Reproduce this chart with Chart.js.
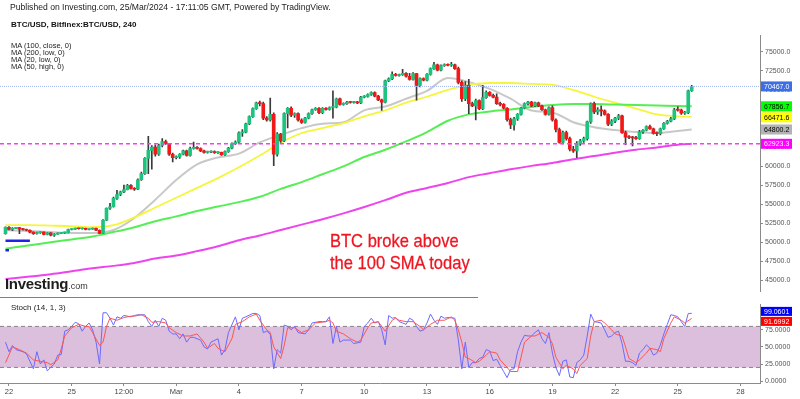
<!DOCTYPE html>
<html>
<head>
<meta charset="utf-8">
<script src="https://cdn.jsdelivr.net/npm/chart.js@4.4.1/dist/chart.umd.min.js"></script>
<style>
    html, body { margin: 0; padding: 0; background: #fff; }
    body { width: 800px; height: 399px; position: relative; overflow: hidden; font-family: "Liberation Sans", Arial, sans-serif; }
    canvas { position: absolute; left: 0; }
    #main { top: 0; }
    #stoch { top: 298px; }
    .txt { position: absolute; white-space: nowrap; color: #222; }
</style>
</head>
<body>
<canvas id="main" width="800" height="298"></canvas>
<canvas id="stoch" width="800" height="101"></canvas>

<div class="txt" style="left:10px;top:2px;font-size:8.6px;line-height:10px;">Published on Investing.com, 25/Mar/2024 - 17:11:05 GMT, Powered by TradingView.</div>
<div class="txt" style="left:11px;top:20px;font-size:8px;line-height:10px;font-weight:bold;color:#111;">BTC/USD, Bitfinex:BTC/USD, 240</div>
<div class="txt" style="left:11px;top:42px;font-size:7.5px;line-height:7px;">MA (100, close, 0)<br>MA (200, low, 0)<br>MA (20, low, 0)<br>MA (50, high, 0)</div>
<div class="txt" style="left:330px;top:230px;font-size:19px;line-height:22px;color:#ee1622;-webkit-text-stroke:0.3px #ee1622;transform:scaleX(0.87);transform-origin:left top;">BTC broke above<br>the 100 SMA today</div>
<div class="txt" style="left:5px;top:276px;font-size:15px;line-height:15px;font-weight:bold;color:#1d1d1d;letter-spacing:-0.3px;">Investing<span style="font-size:9px;font-weight:normal;color:#333;letter-spacing:0">.com</span></div>
<div style="position:absolute;left:0;top:297px;width:478px;height:1px;background:#808080;"></div>
<div class="txt" style="left:11px;top:303px;font-size:8px;line-height:10px;">Stoch (14, 1, 3)</div>

<script>
// 4h candles, index 0 = 22 Feb 00:00, first candle at -1
const firstCandle = -1;
const opens = [51100,
    51950, 51650, 51800, 51900, 51700, 51650,
    51550, 51300, 51100, 51250, 51300, 51000,
    51200, 50900, 51050, 51150, 51200, 51250,
    51650, 51700, 51800, 51750, 51800, 51650,
    51700, 51800, 51550, 51150, 52870, 54450,
    54650, 55750, 56250, 56600, 56900, 57450,
    57050, 56950, 58200, 59000, 61000, 62060,
    62500, 61550, 62700, 63200, 62950, 61550,
    61100, 61200, 61550, 62000, 61400, 62300,
    62450, 62300, 62000, 61800, 61850, 61900,
    61750, 61800, 61500, 61900, 62350, 62950,
    63150, 64350, 64450, 65550, 66500, 67550,
    68300, 68200, 66300, 66050, 66800, 61550,
    64200, 63300, 66900, 67600, 66700, 66900,
    66050, 65750, 66300, 66900, 67400, 67600,
    67000, 67600, 67450, 67700, 67750, 68850,
    68100, 68200, 68400, 68350, 68400, 68300,
    69050, 69150, 69400, 69650, 69200, 68700,
    68400, 71200, 71450, 72050, 71900, 72000,
    72200, 71800, 71400, 72150, 70600, 71500,
    71300, 72050, 72800, 73300, 72600, 73200,
    73350, 73250, 73300, 72800, 71000, 68850,
    70600, 68200, 67900, 68600, 67550, 69000,
    69700, 69280, 69050, 68200, 68100, 67600,
    66100, 65400, 66200, 66800, 67600, 68200,
    68400, 67900, 68300, 67900, 67400, 66800,
    67700, 66050, 64800, 63100, 64400, 63600,
    62200, 62000, 62900, 63300, 63600, 65800,
    68200, 67100, 67400, 67250, 66800, 65500,
    65900, 66300, 66600, 64400, 63800, 63750,
    63700, 63600, 64500, 64700, 65200, 64900,
    64300, 64250, 64900, 65600, 65900, 66200,
    67400, 67350, 66950, 67000, 69900];
const highs = [52000,
    52050, 51900, 51950, 51950, 51800, 51700,
    51600, 51350, 51300, 51350, 51350, 51250,
    51250, 51100, 51200, 51250, 51300, 51700,
    51750, 51850, 51850, 51850, 51850, 51750,
    51850, 51850, 51600, 52950, 54500, 55100,
    55900, 56800, 56700, 57500, 57600, 57550,
    57150, 58300, 59200, 61100, 63900, 62700,
    62800, 62900, 63600, 63400, 63000, 61700,
    61350, 61650, 62100, 62100, 62500, 63150,
    62550, 62400, 62100, 61950, 62000, 62000,
    61900, 61850, 62000, 62450, 63050, 63300,
    64500, 64800, 65650, 66600, 67650, 68400,
    68550, 68400, 66500, 68950, 67000, 64400,
    64300, 67000, 67700, 67800, 67000, 67000,
    66200, 66400, 67000, 67500, 67700, 67700,
    67700, 67700, 67800, 69900, 68950, 68950,
    68300, 68500, 68500, 68500, 68500, 69150,
    69250, 69500, 69750, 69750, 69300, 68800,
    71300, 71600, 72400, 72200, 72100, 72700,
    72300, 72200, 72300, 72200, 71600, 71600,
    72150, 72900, 73650, 73400, 73300, 73450,
    73450, 73650, 73400, 73000, 71200, 71100,
    71400, 68400, 68800, 68700, 70600, 69900,
    69800, 69450, 69500, 68400, 68200, 67700,
    66300, 66400, 66900, 67700, 68300, 68500,
    68500, 68400, 68400, 68000, 67500, 67800,
    67900, 66200, 65000, 64600, 64600, 63800,
    62600, 63200, 63500, 63800, 65900, 68300,
    68400, 67700, 67900, 67400, 66900, 66100,
    66400, 66800, 66700, 64600, 64000, 63900,
    63900, 64700, 64800, 65300, 65400, 65000,
    64500, 65000, 65700, 66000, 66400, 67600,
    67800, 67500, 67200, 70000, 70600];
const lows = [51050,
    51600, 51500, 51750, 51100, 51550, 51450,
    51200, 51000, 51050, 51150, 50950, 50950,
    50800, 50750, 51000, 51100, 51150, 51200,
    51600, 51650, 51700, 51700, 51600, 51600,
    51650, 51500, 51100, 51100, 52800, 54300,
    54600, 55600, 56100, 56500, 56850, 56950,
    56800, 56900, 58100, 58900, 59000, 59600,
    61300, 61400, 62500, 62850, 61400, 60550,
    60950, 61000, 61450, 61300, 61300, 62200,
    62200, 61900, 61700, 61700, 61750, 61650,
    61650, 61400, 61400, 61800, 62250, 62850,
    63050, 63900, 64350, 65450, 66400, 67450,
    67900, 66100, 65900, 65900, 60050, 61300,
    63100, 63200, 65000, 66500, 66400, 65900,
    65600, 65650, 66200, 66800, 67300, 66900,
    66900, 67350, 67350, 66300, 67650, 68000,
    68000, 68100, 68250, 68250, 68200, 68200,
    68950, 69050, 69300, 69100, 68600, 67300,
    68300, 71100, 71350, 71800, 71800, 71900,
    71700, 71300, 71300, 68650, 70400, 71200,
    71200, 71950, 72700, 72500, 72500, 73100,
    73150, 73100, 72700, 70800, 68500, 68600,
    66900, 67800, 66050, 67400, 67400, 68900,
    69200, 68950, 68100, 67900, 67500, 65900,
    64900, 64700, 66000, 66700, 67500, 68000,
    67800, 67800, 67800, 67300, 66700, 66700,
    65900, 64500, 63000, 62900, 63400, 62000,
    61800, 61100, 62700, 63100, 63400, 65600,
    66900, 66800, 66600, 66700, 65300, 65300,
    65700, 66100, 64300, 62800, 63600, 62650,
    63500, 63500, 64300, 64600, 64800, 64200,
    64000, 64100, 64800, 65500, 65800, 66100,
    67200, 66800, 66800, 66900, 69800];
const closes = [51950,
    51650, 51800, 51900, 51700, 51650, 51550,
    51300, 51100, 51250, 51300, 51000, 51200,
    50900, 51050, 51150, 51200, 51250, 51650,
    51700, 51800, 51750, 51800, 51650, 51700,
    51800, 51550, 51150, 52870, 54450, 54650,
    55750, 56250, 56600, 56900, 57450, 57050,
    56950, 58200, 59000, 61000, 62060, 62500,
    61550, 62700, 63200, 62950, 61550, 61100,
    61200, 61550, 62000, 61400, 62300, 62450,
    62300, 62000, 61800, 61850, 61900, 61750,
    61800, 61500, 61900, 62350, 62950, 63150,
    64350, 64450, 65550, 66500, 67550, 68300,
    68200, 66300, 66050, 66800, 61550, 64200,
    63300, 66900, 67600, 66700, 66900, 66050,
    65750, 66300, 66900, 67400, 67600, 67000,
    67600, 67450, 67700, 67750, 68850, 68100,
    68200, 68400, 68350, 68400, 68300, 69050,
    69150, 69400, 69650, 69200, 68700, 68400,
    71200, 71450, 72050, 71900, 72000, 72200,
    71800, 71400, 72150, 70600, 71500, 71300,
    72050, 72800, 73300, 72600, 73200, 73350,
    73250, 73300, 72800, 71000, 68850, 70600,
    68200, 67900, 68600, 67550, 69000, 69700,
    69280, 69050, 68200, 68100, 67600, 66100,
    65400, 66200, 66800, 67600, 68200, 68400,
    67900, 68300, 67900, 67400, 66800, 67700,
    66050, 64800, 63100, 64400, 63600, 62200,
    62000, 62900, 63300, 63600, 65800, 68200,
    67100, 67400, 67250, 66800, 65500, 65900,
    66300, 66600, 64400, 63800, 63750, 63700,
    63600, 64500, 64700, 65200, 64900, 64300,
    64250, 64900, 65600, 65900, 66200, 67400,
    67350, 66950, 67000, 69900, 70467];

// moving averages, read once per day
const maIdx = [-1, 6, 12, 18, 24, 30, 36, 42, 48, 54, 60, 66, 72, 78, 84, 90, 96,
    102, 108, 114, 120, 126, 132, 138, 144, 150, 156, 162, 168, 174, 180, 186, 192, 196];
const ma20Low = [51580, 51450, 51320, 51190, 51190, 51580, 53170, 55570, 58150, 60210, 61120, 61630, 63100, 64080, 64980, 65560, 65760,
    67310, 67820, 68850, 69880, 71560, 71050, 70140, 68850, 67310, 67050, 65760, 65110, 64730, 64470, 64340, 64600, 64800];
const ma50High = [52220, 52220, 52160, 52090, 51960, 52220, 53250, 54540, 55830, 57120, 58410, 59830, 61380, 63050, 64340, 64990, 65630,
    66540, 67310, 68340, 69110, 70010, 70660, 70920, 70920, 70790, 70660, 70010, 69110, 68340, 67560, 66790, 66540, 66472];
const ma100Close = [49130, 49580, 49970, 50350, 50740, 51320, 51960, 52740, 53380, 54090, 54670, 55250, 55960, 56990, 57890, 58920, 59950,
    61180, 62140, 63240, 64470, 65950, 66790, 67180, 67440, 67760, 68010, 68140, 68140, 68080, 68010, 67950, 67880, 67857];
const ma200Low = [45130, 45460, 45780, 46170, 46560, 46870, 47260, 47840, 48230, 48810, 49450, 50230, 50870, 51580, 52290, 53000, 53770,
    54610, 55510, 56480, 57120, 57770, 58540, 59060, 59570, 60020, 60410, 60900, 61310, 61760, 62150, 62450, 62790, 62923];

const lastPrice = 70467.0;
const markIdx = [-1, 6];
const markLevel = 50160;
const markIdx2 = [-1, 0];
const markLevel2 = 48940;

const tagValues = [70467.0, 67856.7, 66471.6, 64800.2, 62923.3];
const tagFills = ['#3d6ee3', '#00ff00', '#ffff00', '#b3b3b3', '#ff00ff'];
const tagTexts = ['#ffffff', '#000000', '#000000', '#000000', '#ffffff'];
const priceTicks = [45000, 47500, 50000, 52500, 55000, 57500, 60000, 62500, 65000, 67500, 70000, 72500, 75000];

// stochastic %K and %D
const kIdx = [-1, 0, 1, 2, 4, 5, 7, 8, 9, 10,
    11, 13, 14, 15, 16, 17, 18, 19, 20, 21,
    22, 23, 24, 25, 26, 27, 28, 29, 30, 31,
    32, 33, 35, 36, 37, 39, 40, 41, 42, 43,
    44, 45, 46, 47, 48, 49, 50, 51, 52, 53,
    55, 56, 57, 58, 60, 61, 62, 63, 65, 66,
    67, 68, 70, 71, 72, 73, 74, 75, 76, 77,
    78, 79, 80, 81, 82, 83, 85, 86, 87, 89,
    90, 91, 92, 93, 94, 95, 96, 98, 99, 101,
    102, 103, 104, 105, 106, 107, 108, 109, 110, 111,
    112, 113, 114, 115, 116, 117, 118, 119, 120, 121,
    122, 123, 124, 125, 126, 128, 129, 130, 131, 132,
    133, 134, 135, 136, 137, 138, 139, 140, 141, 142,
    143, 144, 145, 146, 147, 148, 149, 150, 151, 152,
    153, 154, 155, 156, 157, 158, 159, 160, 161, 162,
    163, 164, 165, 166, 167, 168, 169, 170, 171, 172,
    173, 174, 175, 176, 177, 178, 179, 180, 181, 182,
    183, 184, 185, 186, 187, 188, 189, 190, 191, 192,
    193, 194, 195, 196];
const kVal = [57, 43, 52, 46, 43, 40, 18, 43, 25, 31,
    15, 25, 38, 39, 73, 75, 80, 86, 84, 73,
    80, 85, 75, 57, 25, 100, 100, 92, 82, 94,
    92, 96, 94, 96, 97, 97, 87, 80, 89, 80,
    92, 89, 73, 69, 69, 62, 69, 57, 64, 64,
    60, 50, 47, 57, 62, 38, 46, 71, 94, 75,
    92, 94, 99, 99, 96, 71, 73, 69, 18, 46,
    41, 82, 80, 75, 80, 71, 69, 75, 85, 87,
    87, 87, 94, 55, 80, 57, 60, 60, 55, 57,
    80, 85, 92, 85, 87, 75, 53, 96, 92, 93,
    87, 85, 83, 92, 89, 80, 73, 75, 85, 98,
    89, 83, 95, 92, 93, 92, 60, 18, 57, 20,
    27, 27, 33, 35, 46, 44, 30, 32, 23, 14,
    5, 17, 18, 43, 57, 67, 66, 66, 71, 75,
    62, 55, 71, 41, 20, 8, 29, 31, 6, 5,
    27, 31, 38, 66, 98, 87, 86, 85, 75, 64,
    66, 71, 73, 55, 29, 29, 27, 23, 41, 46,
    53, 48, 38, 41, 53, 69, 83, 97, 96, 94,
    87, 80, 99, 99.0601];
const dIdx = [-1, 1, 3, 5, 7, 9, 11, 12, 14, 15,
    16, 18, 20, 22, 23, 24, 26, 27, 28, 29,
    31, 33, 35, 36, 38, 40, 41, 43, 45, 46,
    48, 50, 52, 54, 56, 57, 59, 60, 62, 64,
    65, 67, 69, 71, 72, 74, 75, 76, 78, 79,
    80, 82, 84, 86, 88, 91, 92, 93, 94, 96,
    98, 100, 101, 103, 104, 106, 107, 108, 110, 111,
    112, 114, 116, 118, 119, 121, 123, 125, 127, 128,
    129, 130, 131, 132, 134, 135, 137, 138, 140, 141,
    143, 144, 146, 147, 148, 150, 151, 153, 155, 156,
    157, 159, 160, 162, 163, 164, 166, 167, 168, 170,
    171, 173, 174, 176, 177, 178, 180, 181, 183, 184,
    186, 187, 188, 190, 191, 193, 194, 196];
const dVal = [27, 50, 46, 41, 31, 29, 27, 24, 31, 47,
    66, 78, 83, 80, 80, 71, 52, 57, 80, 92,
    89, 93, 95, 95, 97, 92, 86, 87, 85, 78,
    71, 66, 66, 69, 57, 48, 55, 48, 43, 62,
    83, 87, 94, 98, 89, 75, 71, 50, 33, 52,
    78, 78, 71, 75, 85, 87, 89, 85, 73, 69,
    62, 57, 60, 78, 85, 87, 80, 73, 89, 92,
    89, 87, 87, 80, 75, 83, 89, 89, 94, 89,
    75, 57, 35, 33, 27, 29, 38, 43, 41, 31,
    20, 14, 14, 35, 57, 66, 66, 71, 64, 55,
    35, 18, 23, 18, 11, 23, 33, 66, 87, 89,
    85, 75, 69, 66, 50, 33, 27, 31, 41, 48,
    46, 43, 62, 85, 94, 89, 85, 91.6992];
const stochTicks = [0, 25, 50, 75];
const stochTags = [99.0601, 91.6992];
const stochTagFills = ['#0000ff', '#ff0000'];
const bandLevels = [80, 20];

const xTickIdx = [0, 18, 33, 48, 66, 84, 102, 120, 138, 156, 174, 192, 210];
const xTickLabels = ['22', '25', '12:00', 'Mar', '4', '7', '10', '13', '16', '19', '22', '25', '28'];

const X_MIN = -2.58, X_MAX = 215.6;
const UP = '#1cc47e', DOWN = '#f21818';
const FONT = '"Liberation Sans", Arial, sans-serif';

Chart.defaults.font.family = FONT;
Chart.defaults.animation = false;

// price boxes on the right axis
const tagPlugin = {
    id: 'tags',
    afterDraw(chart, args, opts)
    {
        const { ctx, chartArea } = chart;
        const scale = chart.scales.y;
        const h = opts.height;
        let prevBottom = -Infinity;
        ctx.save();
        ctx.font = '7px ' + FONT;
        ctx.textBaseline = 'middle';
        opts.values.forEach((v, k) =>
        {
            let py = scale.getPixelForValue(v) + (opts.lift || 0);
            if (py - h / 2 < prevBottom + 1) py = prevBottom + 1 + h / 2;
            ctx.fillStyle = opts.fills[k];
            ctx.fillRect(chartArea.right + 1, py - h / 2, 31, h);
            ctx.fillStyle = opts.texts[k];
            ctx.fillText(v.toFixed(opts.decimals), chartArea.right + 4, py + 0.5);
            prevBottom = py + h / 2;
        });
        ctx.restore();
    }
};

const xs = opens.map((_, k) => firstCandle + k);
const lineOf = (idx, vals) => idx.map((x, k) => ({ x: x, y: vals[k] }));
const flat = (level) => [{ x: X_MIN, y: level }, { x: X_MAX, y: level }];

function maSet(label, vals, color, width)
{
    return {
        type: 'line', label: label, data: lineOf(maIdx, vals),
        borderColor: color, borderWidth: width, pointRadius: 0,
        cubicInterpolationMode: 'monotone', order: 10
    };
}

new Chart(document.getElementById('main'), {
    type: 'bar',
    data: {
        datasets: [
            {
                label: 'wick',
                data: xs.map((x, k) => ({ x: x, y: [lows[k], highs[k]] })),
                backgroundColor: '#3a3a3a', barThickness: 1, grouped: false, order: 3
            },
            {
                label: 'body',
                data: xs.map((x, k) => ({ x: x, y: [opens[k], closes[k]] })),
                backgroundColor: closes.map((c, k) => c >= opens[k] ? UP : DOWN),
                barThickness: 3, minBarLength: 1, grouped: false, order: 2
            },
            maSet('MA 200 low', ma200Low, '#ee44ee', 2),
            maSet('MA 100 close', ma100Close, '#55ee55', 2),
            maSet('MA 50 high', ma50High, '#f5f53c', 1.8),
            maSet('MA 20 low', ma20Low, '#c8c8c8', 2),
            {
                type: 'line', label: 'last', data: flat(lastPrice),
                borderColor: '#a3b5ef', borderWidth: 1, borderDash: [1, 1], pointRadius: 0, order: 1
            },
            {
                type: 'line', label: 'ma200 level', data: flat(ma200Low[ma200Low.length - 1]),
                borderColor: '#ee44ee', borderWidth: 1.6, borderDash: [4, 3], pointRadius: 0, order: 1
            },
            {
                type: 'line', label: 'mark', data: markIdx.map(x => ({ x: x, y: markLevel })),
                borderColor: '#2222e6', borderWidth: 2.5, pointRadius: 0, order: 1
            },
            {
                type: 'line', label: 'mark2', data: markIdx2.map(x => ({ x: x, y: markLevel2 })),
                borderColor: '#2222e6', borderWidth: 2.5, pointRadius: 0, order: 1
            }
        ]
    },
    options: {
        responsive: false,
        events: [],
        layout: { padding: { top: 35, bottom: 1, left: 0, right: 0 } },
        plugins: {
            legend: { display: false },
            tooltip: { enabled: false },
            tags: { values: tagValues, fills: tagFills, texts: tagTexts, decimals: 1, height: 10 }
        },
        scales: {
            x: { type: 'linear', min: X_MIN, max: X_MAX, offset: false, display: false },
            y: {
                position: 'right', min: 43460, max: 77230,
                afterFit: s => { s.width = 40; },
                afterBuildTicks: s => { s.ticks = priceTicks.map(v => ({ value: v })); },
                border: { color: '#8a8a8a' },
                grid: { drawOnChartArea: false, tickLength: 3, color: '#8a8a8a' },
                ticks: {
                    autoSkip: false, padding: 2, color: '#555', font: { size: 7 },
                    callback: v => v.toFixed(1)
                }
            }
        }
    },
    plugins: [tagPlugin]
});

new Chart(document.getElementById('stoch'), {
    type: 'line',
    data: {
        datasets: [
            {
                label: 'band hi', data: flat(bandLevels[0]), borderColor: '#8c7f8c',
                borderWidth: 1, borderDash: [4, 3], pointRadius: 0, fill: false, order: 10
            },
            {
                label: 'band lo', data: flat(bandLevels[1]), borderColor: '#8c7f8c',
                borderWidth: 1, borderDash: [4, 3], pointRadius: 0,
                fill: '-1', backgroundColor: '#dcbfdc', order: 9
            },
            {
                label: '%K', data: lineOf(kIdx, kVal), borderColor: '#6a6aff',
                borderWidth: 1, pointRadius: 0, order: 2
            },
            {
                label: '%D', data: lineOf(dIdx, dVal), borderColor: '#ff5454',
                borderWidth: 1, pointRadius: 0, order: 1
            }
        ]
    },
    options: {
        responsive: false,
        events: [],
        layout: { padding: { top: 2, bottom: 0, left: 0, right: 0 } },
        plugins: {
            legend: { display: false },
            tooltip: { enabled: false },
            filler: { drawTime: 'beforeDatasetsDraw' },
            tags: { values: stochTags, fills: stochTagFills, texts: ['#ffffff', '#ffffff'], decimals: 4, height: 9, lift: -2 }
        },
        scales: {
            x: {
                type: 'linear', min: X_MIN, max: X_MAX, offset: false,
                afterFit: s => { s.height = 16; },
                afterBuildTicks: s => { s.ticks = xTickIdx.map(v => ({ value: v })); },
                border: { color: '#8a8a8a' },
                grid: { drawOnChartArea: false, tickLength: 3, color: '#8a8a8a' },
                ticks: {
                    autoSkip: false, maxRotation: 0, padding: 1, color: '#444', font: { size: 7.5 },
                    callback: (v, i) => xTickLabels[i]
                }
            },
            y: {
                position: 'right', min: -2.8, max: 112.5,
                afterFit: s => { s.width = 40; },
                afterBuildTicks: s => { s.ticks = stochTicks.map(v => ({ value: v })); },
                border: { color: '#8a8a8a' },
                grid: { drawOnChartArea: false, tickLength: 3, color: '#8a8a8a' },
                ticks: {
                    autoSkip: false, padding: 2, color: '#555', font: { size: 7 },
                    callback: v => v.toFixed(4)
                }
            }
        }
    },
    plugins: [tagPlugin]
});
</script>
</body>
</html>
